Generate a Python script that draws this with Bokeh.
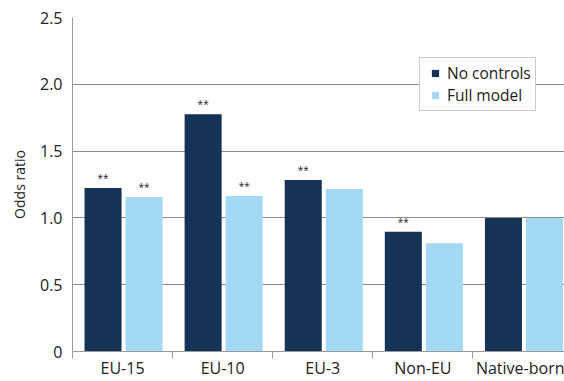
from bokeh.plotting import figure
from bokeh.models import ColumnDataSource, FixedTicker, Range1d, Legend, LegendItem
from bokeh.core.properties import value
from bokeh.embed import file_html
from bokeh.resources import INLINE

categories = ["EU-15", "EU-10", "EU-3", "Non-EU", "Native-born"]
no_controls = [1.224, 1.776, 1.284, 0.896, 1.0]
full_model = [1.157, 1.164, 1.216, 0.81, 1.0]
sig_no_controls = [True, True, True, True, False]
sig_full_model = [True, True, False, False, False]
y_ticks = [0, 0.5, 1.0, 1.5, 2.0, 2.5]
y_tick_labels = ["0", "0.5", "1.0", "1.5", "2.0", "2.5"]

DARK = "#143357"
LIGHT = "#A3D9F5"
FONT = "Open Sans"
TXT = "#222222"
GREY = "#999999"

bar_w = 0.37
pad = 0.12
gap = 0.04
idx = list(range(len(categories)))
x_dark = [i + pad + bar_w / 2 for i in idx]
x_light = [i + pad + bar_w + gap + bar_w / 2 for i in idx]

p = figure(width=564, height=381, output_backend="svg", toolbar_location=None,
           x_range=Range1d(0, 4.915), y_range=Range1d(0, 2.5),
           min_border_left=72, min_border_top=17, min_border_right=0, min_border_bottom=29)
p.outline_line_color = None
p.background_fill_color = "white"
p.border_fill_color = "white"

src_d = ColumnDataSource(dict(x=x_dark, top=no_controls))
src_l = ColumnDataSource(dict(x=x_light, top=full_model))
p.vbar(x="x", top="top", width=bar_w, source=src_d, fill_color=DARK, line_color=None)
p.vbar(x="x", top="top", width=bar_w, source=src_l, fill_color=LIGHT, line_color=None)

sx, sy = [], []
for i in idx:
    if sig_no_controls[i]:
        sx.append(x_dark[i]); sy.append(no_controls[i])
    if sig_full_model[i]:
        sx.append(x_light[i]); sy.append(full_model[i])
star_src = ColumnDataSource(dict(x=sx, y=sy, t=["**"] * len(sx)))
p.text(x="x", y="y", text="t", source=star_src, text_align="center", text_baseline="bottom",
       y_offset=-3, text_font=value(FONT), text_font_size="10px", text_color=TXT)

p.xaxis.ticker = FixedTicker(ticks=[i + 0.5 for i in idx], minor_ticks=list(range(len(categories) + 1)))
p.xaxis.major_label_overrides = {i + 0.5: c for i, c in zip(idx, categories)}
p.xaxis.major_tick_out = 0
p.xaxis.major_tick_in = 0
p.xaxis.minor_tick_out = 7
p.xaxis.minor_tick_in = 0
p.xaxis.minor_tick_line_color = GREY
p.xaxis.axis_line_color = GREY
p.xaxis.major_label_standoff = -2
p.xaxis.major_label_text_font = FONT
p.xaxis.major_label_text_font_size = "16px"
p.xaxis.major_label_text_color = TXT

p.yaxis.ticker = FixedTicker(ticks=y_ticks)
p.yaxis.major_label_overrides = {t: l for t, l in zip(y_ticks, y_tick_labels)}
p.yaxis.major_tick_out = 0
p.yaxis.major_tick_in = 0
p.yaxis.minor_tick_line_color = None
p.yaxis.axis_line_color = GREY
p.yaxis.major_label_standoff = 10
p.yaxis.major_label_text_font = FONT
p.yaxis.major_label_text_font_size = "16px"
p.yaxis.major_label_text_color = TXT
p.yaxis.axis_label = "Odds ratio"
p.yaxis.axis_label_text_font = FONT
p.yaxis.axis_label_text_font_size = "14px"
p.yaxis.axis_label_text_font_style = "normal"
p.yaxis.axis_label_text_color = TXT
p.yaxis.axis_label_standoff = 8

p.xgrid.grid_line_color = None
p.ygrid.ticker = FixedTicker(ticks=y_ticks)
p.ygrid.grid_line_color = "#8c8c8c"
p.ygrid.grid_line_width = 1

nan = float("nan")
r1 = p.scatter(x=[nan], y=[nan], marker="square", size=9, fill_color=DARK, line_color=None)
r2 = p.scatter(x=[nan], y=[nan], marker="square", size=9, fill_color=LIGHT, line_color=None)
legend = Legend(items=[LegendItem(label="No controls", renderers=[r1]),
                       LegendItem(label="Full model", renderers=[r2])],
                location=(347, 240), orientation="vertical",
                glyph_width=22, glyph_height=18, label_height=18, label_standoff=1,
                spacing=0, padding=4, margin=0,
                label_text_font=FONT, label_text_font_size="15.5px", label_text_color=TXT,
                border_line_color=GREY, border_line_width=1, background_fill_color="white",
                background_fill_alpha=1.0)
p.add_layout(legend, "center")

open("out.html", "w").write(file_html(p, INLINE))
